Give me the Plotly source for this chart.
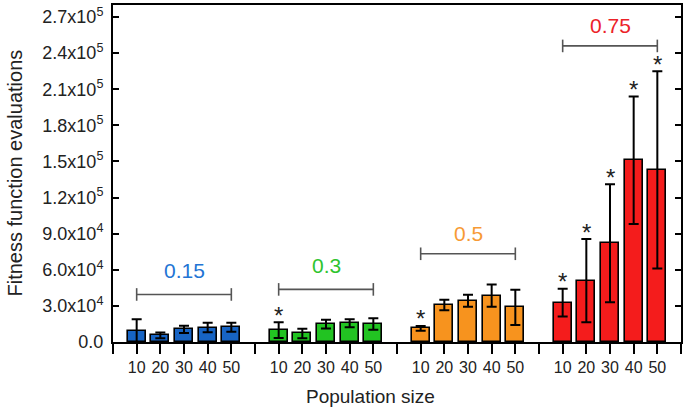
import plotly.graph_objects as go

# ---- data ----
populations = ["10", "20", "30", "40", "50"]
group_labels = ["0.15", "0.3", "0.5", "0.75"]

means_015 = [9500, 5500, 10500, 12000, 12300]
err_015 = [9500, 2300, 3000, 4000, 3700]
means_03 = [9900, 7100, 14800, 15600, 15000]
err_03 = [6500, 4000, 3600, 3400, 4800]
means_05 = [11300, 30700, 34300, 38500, 28800]
err_05 = [2000, 4400, 5000, 9300, 14600]
means_075 = [32700, 51000, 82000, 151000, 143000]
err_075 = [11600, 34500, 49000, 53000, 82000]

signif_015 = [0, 0, 0, 0, 0]
signif_03 = [1, 0, 0, 0, 0]
signif_05 = [1, 0, 0, 0, 0]
signif_075 = [1, 1, 1, 1, 1]

bracket_y = [39500, 43700, 73300, 246000]
label_y = [59300, 63400, 90000, 263000]

ytick_vals = [0, 30000, 60000, 90000, 120000, 150000, 180000, 210000, 240000, 270000]
ytick_text = ["0.0", "3.0x10<sup>4</sup>", "6.0x10<sup>4</sup>", "9.0x10<sup>4</sup>",
              "1.2x10<sup>5</sup>", "1.5x10<sup>5</sup>", "1.8x10<sup>5</sup>",
              "2.1x10<sup>5</sup>", "2.4x10<sup>5</sup>", "2.7x10<sup>5</sup>"]

# ---- styles ----
bar_colors = ["#1764c4", "#22c322", "#f7931e", "#f41c1c"]
text_colors = ["#2374d4", "#2ec42e", "#f79a34", "#ec2228"]
FONT = "Liberation Sans, Arial, sans-serif"

means = [means_015, means_03, means_05, means_075]
errs = [err_015, err_03, err_05, err_075]
signif = [signif_015, signif_03, signif_05, signif_075]

slot = 6  # positions per group (5 bars + gap)
fig = go.Figure()

for g in range(4):
    xs = [g * slot + i for i in range(len(populations))]
    fig.add_trace(go.Bar(
        x=xs, y=means[g], width=0.75,
        marker=dict(color=bar_colors[g], line=dict(color="black", width=1.6)),
        error_y=dict(type="data", array=errs[g], visible=True,
                     color="black", thickness=2, width=5),
        showlegend=False,
    ))
    # significance asterisks
    for x, m, e, s in zip(xs, means[g], errs[g], signif[g]):
        if s:
            fig.add_annotation(
                x=x, y=m + e, text="*", showarrow=False,
                xanchor="center", yanchor="middle", yshift=7,
                font=dict(size=24, color="#222", family=FONT),
            )
    # bracket
    fig.add_trace(go.Scatter(
        x=[xs[0], xs[-1]], y=[bracket_y[g]] * 2, mode="lines+markers",
        line=dict(color="#555555", width=1.6),
        marker=dict(symbol="line-ns-open", size=9, line=dict(color="#555555", width=1.6)),
        showlegend=False, hoverinfo="skip",
    ))
    fig.add_annotation(
        x=(xs[0] + xs[-1]) / 2, y=label_y[g], text=group_labels[g],
        showarrow=False, font=dict(size=21, color=text_colors[g], family=FONT),
        xanchor="center", yanchor="middle",
    )

# x ticks: bars plus separators
tickvals = list(range(-1, 4 * slot))
ticktext = []
for t in tickvals:
    if t % slot == slot - 1 or t < 0:
        ticktext.append("")
    else:
        ticktext.append(populations[t % slot])

fig.update_layout(
    width=691, height=416,
    margin=dict(l=113, r=10, t=3, b=74),
    plot_bgcolor="white", paper_bgcolor="white",
    bargap=0,
    font=dict(family=FONT, color="#222"),
    xaxis=dict(
        range=[-1, 4 * slot - 1], tickmode="array", tickvals=tickvals, ticktext=ticktext,
        ticks="outside", ticklen=10, tickwidth=2, tickcolor="black",
        showline=True, linecolor="black", linewidth=2, mirror=True,
        showgrid=False, zeroline=False,
        tickfont=dict(size=16, color="#222", family=FONT),
        ticklabelstandoff=0,
    ),
    yaxis=dict(
        range=[0, 280000], tickmode="array", tickvals=ytick_vals, ticktext=ytick_text,
        ticks="inside", ticklen=6, tickwidth=2, tickcolor="black",
        showline=True, linecolor="black", linewidth=2, mirror="ticks",
        showgrid=False, zeroline=False,
        tickfont=dict(size=18, color="#222", family=FONT),
        ticklabelstandoff=4,
    ),
)

fig.add_annotation(
    xref="paper", yref="paper", x=(370 - 113) / 568, y=-(397 - 342) / 339,
    text="Population size", showarrow=False,
    font=dict(size=19, color="#222", family=FONT), xanchor="center", yanchor="middle",
)
fig.add_annotation(
    xref="paper", yref="paper", x=(14 - 113) / 568, y=0.5,
    text="Fitness function evaluations", showarrow=False, textangle=-90,
    font=dict(size=20, color="#222", family=FONT), xanchor="center", yanchor="middle",
)

fig.write_html("out.html")
